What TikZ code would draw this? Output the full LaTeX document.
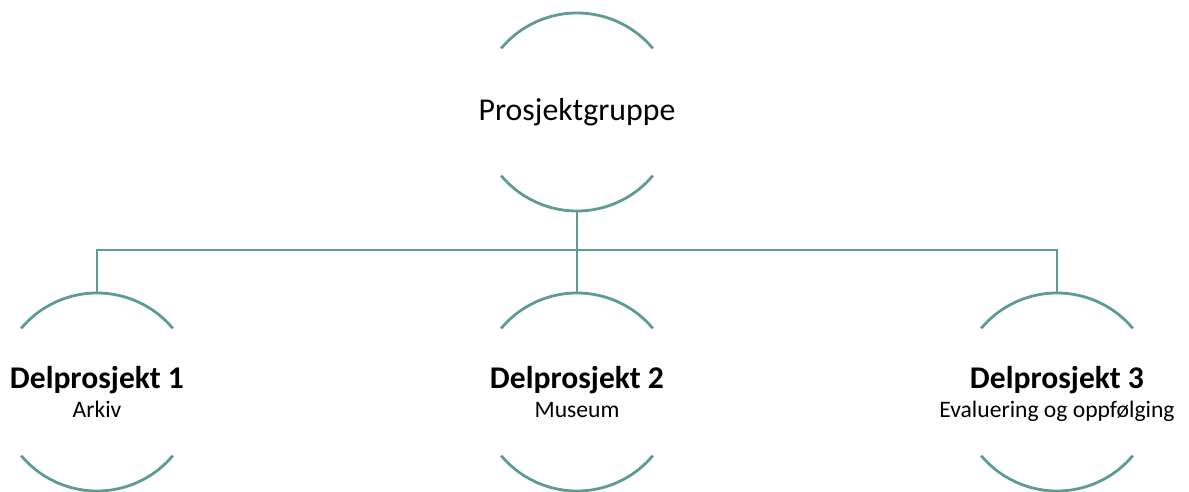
\documentclass[tikz,border=0pt]{standalone}
\usepackage{fontspec}
\setmainfont{Carlito}
\definecolor{teal}{RGB}{94,155,148}
\begin{document}
\begin{tikzpicture}[x=1pt,y=1pt,
  ring/.style={circle, minimum size=198pt, inner sep=0pt, outer sep=0pt},
  arcline/.style={draw=teal, line width=2.8pt},
  conn/.style={draw=teal, line width=2.8pt},
  head/.style={anchor=base, inner sep=0pt, font=\fontsize{31.8}{36}\selectfont},
  title/.style={anchor=base, inner sep=0pt, font=\bfseries\fontsize{31.6}{36}\selectfont},
  sub/.style={anchor=base, inner sep=0pt, font=\fontsize{23.6}{28}\selectfont}]
\useasboundingbox (0,0) rectangle (1189,-492);
\node[ring] (top) at (577,-112) {};
\node[ring] (c1) at (97,-392) {};
\node[ring] (c2) at (577,-392) {};
\node[ring] (c3) at (1057,-392) {};
\foreach \c in {top,c1,c2,c3}{
  \draw[arcline] (\c.40) arc[start angle=40, end angle=140, radius=99pt];
  \draw[arcline] (\c.220) arc[start angle=220, end angle=320, radius=99pt];
}
\coordinate (bus) at (577,-250);
\draw[conn] (top.south) -- (bus);
\draw[conn] (c1.north) |- (bus) -| (c3.north);
\draw[conn] (bus) -- (c2.north);
\node[head] (h) at (577,-121) {Prosjektgruppe};
\node[title] (t1) at (97,-388) {Delprosjekt 1};
\node[sub] (s1) at (97,-417) {Arkiv};
\node[title] (t2) at (577,-388) {Delprosjekt 2};
\node[sub] (s2) at (577,-417) {Museum};
\node[title] (t3) at (1057,-388) {Delprosjekt 3};
\node[sub] (s3) at (1057,-417) {Evaluering og oppfølging};
\end{tikzpicture}
\end{document}
